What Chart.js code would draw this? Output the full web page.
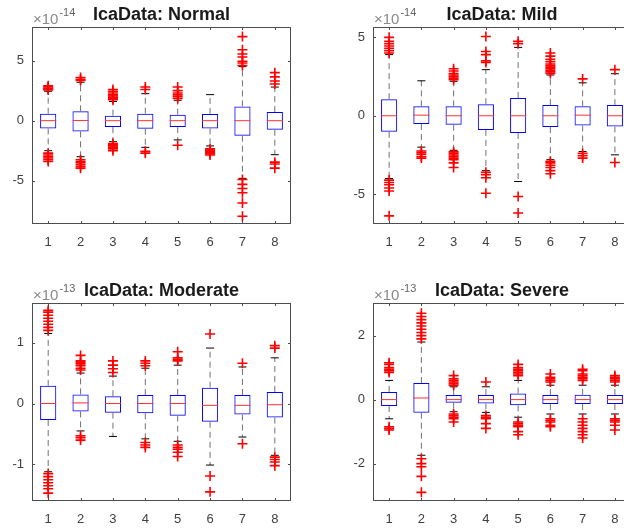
<!DOCTYPE html>
<html>
<head>
<meta charset="utf-8">
<script src="https://cdn.jsdelivr.net/npm/chart.js@4.4.0/dist/chart.umd.min.js"></script>
<style>
  html, body { margin: 0; padding: 0; background: #fff; overflow: hidden; }
  #fig { position: relative; width: 624px; height: 528px; overflow: hidden; }
  #fig canvas { position: absolute; }
</style>
</head>
<body>
<div id="fig">
  <canvas id="c-normal" width="300" height="264" style="left:0;top:0"></canvas>
  <canvas id="c-mild" width="330" height="264" style="left:312px;top:0"></canvas>
  <canvas id="c-moderate" width="300" height="264" style="left:0;top:264px"></canvas>
  <canvas id="c-severe" width="330" height="264" style="left:312px;top:264px"></canvas>
</div>
<script>
const positions = [1, 2, 3, 4, 5, 6, 7, 8];

// IcaData: Normal (x1e-14)
const normalMedian = [0, 0.02, 0, 0, 0, 0, 0, 0];
const normalQ1 = [-0.64, -0.89, -0.53, -0.67, -0.53, -0.64, -1.25, -0.75];
const normalQ3 = [0.58, 0.78, 0.42, 0.58, 0.50, 0.56, 1.19, 0.72];
const normalLow = [-2.5, -3.0, -1.75, -2.22, -1.6, -2.1, -4.8, -2.83];
const normalHigh = [2.45, 3.2, 1.6, 2.25, 1.7, 2.17, 4.5, 2.8];
const normalOutliers = [
  [2.55, 2.65, 2.7, 2.8, 2.9, -2.7, -2.85, -3.0, -3.1, -3.25, -3.4],
  [3.35, 3.45, 3.6, -3.25, -3.4, -3.5, -3.65, -3.8, -3.95],
  [1.75, 1.85, 1.95, 2.05, 2.15, 2.3, 2.45, 2.6, -1.9, -2.0, -2.1, -2.2, -2.35, -2.5],
  [2.6, 2.8, -2.55, -2.7],
  [1.85, 2.0, 2.15, 2.3, 2.5, 2.8, -2.05],
  [-2.35, -2.45, -2.55, -2.65, -2.75, -2.85],
  [4.6, 4.8, 4.95, 5.3, 5.55, 5.9, 7.0, -4.9, -5.3, -5.65, -6.0, -6.85, -7.95],
  [3.05, 3.3, 3.65, 4.0, -3.45, -3.6, -3.95]
];
const normalTicks = [-5, 0, 5];

// IcaData: Mild (x1e-14)
const mildMedian = [0, 0.04, 0, 0, 0, 0, 0.04, 0];
const mildQ1 = [-1.02, -0.53, -0.57, -0.9, -1.1, -0.72, -0.62, -0.68];
const mildQ3 = [1.06, 0.6, 0.6, 0.74, 1.13, 0.68, 0.6, 0.68];
const mildLow = [-4.0, -2.0, -2.2, -3.5, -4.19, -2.8, -2.28, -2.49];
const mildHigh = [3.9, 2.23, 2.2, 2.94, 4.36, 2.6, 2.1, 2.68];
const mildOutliers = [
  [4.0, 4.15, 4.3, 4.45, 4.6, 4.75, 5.0, -4.1, -4.25, -4.4, -4.6, -4.8, -6.38],
  [-2.25, -2.35, -2.45, -2.6, -2.7],
  [2.3, 2.4, 2.5, 2.6, 2.7, 2.85, 3.0, -2.3, -2.4, -2.5, -2.6, -2.7, -2.8, -3.0, -3.3],
  [3.4, 3.5, 3.9, 4.1, 5.05, -3.6, -3.75, -3.95, -4.94],
  [4.6, 4.75, -5.15, -6.2],
  [2.7, 2.8, 2.9, 3.0, 3.1, 3.2, 3.3, 3.45, 3.6, 3.8, 4.0, -2.9, -3.0, -3.15, -3.3, -3.5, -3.7],
  [2.35, -2.4, -2.55, -2.7],
  [2.94, -2.98]
];
const mildTicks = [-5, 0, 5];

// IcaData: Moderate (x1e-13)
const moderateMedian = [0, 0.01, 0, 0, 0, -0.03, -0.03, -0.02];
const moderateQ1 = [-0.27, -0.13, -0.15, -0.16, -0.2, -0.3, -0.18, -0.23];
const moderateQ3 = [0.29, 0.15, 0.12, 0.14, 0.14, 0.26, 0.14, 0.19];
const moderateLow = [-1.12, -0.45, -0.54, -0.58, -0.62, -1.01, -0.55, -0.85];
const moderateHigh = [1.15, 0.5, 0.45, 0.58, 0.63, 0.91, 0.6, 0.75];
const moderateOutliers = [
  [1.2, 1.25, 1.3, 1.35, 1.4, 1.45, 1.5, 1.53, -1.15, -1.2, -1.25, -1.3, -1.35, -1.4, -1.47],
  [0.55, 0.58, 0.62, 0.65, 0.68, 0.7, 0.79, -0.53, -0.56, -0.6],
  [0.51, 0.57, 0.63, 0.7],
  [0.62, 0.66, 0.7, -0.64, -0.68, -0.72],
  [0.7, 0.72, 0.75, 0.85, -0.68, -0.72, -0.75, -0.8, -0.87],
  [1.14, -1.19, -1.45],
  [0.66, -0.66],
  [0.91, 0.95, -0.88, -0.92, -0.96, -1.02]
];
const moderateTicks = [-1, 0, 1];

// IcaData: Severe (x1e-13)
const severeMedian = [0, 0.05, 0, 0, 0, 0, 0, 0];
const severeQ1 = [-0.2, -0.41, -0.1, -0.12, -0.18, -0.14, -0.14, -0.14];
const severeQ3 = [0.24, 0.52, 0.14, 0.14, 0.19, 0.14, 0.15, 0.14];
const severeLow = [-0.6, -1.74, -0.38, -0.4, -0.55, -0.45, -0.45, -0.45];
const severeHigh = [0.6, 1.8, 0.4, 0.4, 0.6, 0.45, 0.45, 0.45];
const severeOutliers = [
  [0.85, 0.9, 0.95, 1.0, 1.1, 1.15, -0.85, -0.9, -0.95],
  [1.9, 2.0, 2.1, 2.2, 2.3, 2.4, 2.5, 2.6, 2.7, -1.85, -2.0, -2.1, -2.4, -2.9],
  [0.45, 0.5, 0.55, 0.6, 0.65, 0.75, -0.45, -0.5, -0.55, -0.6, -0.7],
  [0.55, -0.5, -0.55, -0.6, -0.75, -0.9],
  [0.75, 0.8, 0.85, 0.9, 0.95, 1.0, 1.1, -0.7, -0.75, -0.8, -0.85, -1.0, -1.1],
  [0.55, 0.6, 0.65, 0.7, 0.8, -0.6, -0.65, -0.7, -0.8, -0.85],
  [0.6, 0.65, 0.7, 0.75, 0.8, 0.9, 0.95, -0.6, -0.7, -0.8, -0.9, -1.0, -1.1, -1.2],
  [0.55, 0.6, 0.65, 0.7, 0.75, -0.6, -0.65, -0.7, -0.8, -0.95]
];
const severeTicks = [-2, 0, 2];

const FONT = '"Liberation Sans", Arial, sans-serif';

// box outline, tick marks, title and exponent label in MATLAB style
const matlabAxes = {
  id: 'matlabAxes',
  afterDraw(chart, args, opts) {
    const { ctx, chartArea: a, scales } = chart;
    ctx.save();
    ctx.strokeStyle = '#4d4d4d';
    ctx.lineWidth = 1;
    ctx.strokeRect(a.left + 0.5, a.top + 0.5, a.right - a.left - 1, a.bottom - a.top - 1);
    ctx.beginPath();
    scales.x.ticks.forEach(t => {
      const px = Math.round(scales.x.getPixelForValue(t.value)) + 0.5;
      ctx.moveTo(px, a.bottom); ctx.lineTo(px, a.bottom - 3);
      ctx.moveTo(px, a.top); ctx.lineTo(px, a.top + 3);
    });
    scales.y.ticks.forEach(t => {
      const py = Math.round(scales.y.getPixelForValue(t.value)) + 0.5;
      ctx.moveTo(a.left, py); ctx.lineTo(a.left + 3, py);
      ctx.moveTo(a.right, py); ctx.lineTo(a.right - 3, py);
    });
    ctx.stroke();

    ctx.textBaseline = 'alphabetic';
    ctx.fillStyle = '#1a1a1a';
    ctx.font = 'bold 18px ' + FONT;
    ctx.textAlign = 'center';
    ctx.fillText(opts.title, (a.left + a.right) / 2, a.top - 7);

    ctx.textAlign = 'left';
    ctx.fillStyle = '#8a8a8a';
    ctx.font = '15px ' + FONT;
    ctx.fillText('×10', a.left + 1, a.top - 3);
    const w = ctx.measureText('×10').width;
    ctx.fillStyle = '#666666';
    ctx.font = '11px ' + FONT;
    ctx.fillText(opts.exponent, a.left + w + 2, a.top - 11);
    ctx.restore();
  }
};

function renderBoxChart(id, d) {
  const canvas = document.getElementById(id);

  const whiskers = [];
  const caps = [];
  positions.forEach((x, i) => {
    whiskers.push({ x, y: d.q3[i] }, { x, y: d.high[i] }, { x, y: null },
                  { x, y: d.q1[i] }, { x, y: d.low[i] }, { x, y: null });
    caps.push({ x, y: d.low[i] }, { x, y: d.high[i] });
  });
  const outliers = [];
  d.outliers.forEach((list, i) => list.forEach(v => outliers.push({ x: positions[i], y: v })));

  new Chart(canvas, {
    type: 'bar',
    data: {
      datasets: [
        {
          type: 'scatter',
          data: outliers,
          pointStyle: 'cross',
          pointRadius: 5,
          borderColor: '#ff0000',
          borderWidth: 1.6
        },
        {
          type: 'scatter',
          data: positions.map((x, i) => ({ x, y: d.median[i] })),
          pointStyle: 'line',
          pointRadius: 8,
          borderColor: '#ff3030',
          borderWidth: 1
        },
        {
          type: 'scatter',
          data: caps,
          pointStyle: 'line',
          pointRadius: 4,
          borderColor: '#000000',
          borderWidth: 1
        },
        {
          type: 'scatter',
          data: whiskers,
          showLine: true,
          spanGaps: false,
          pointRadius: 0,
          borderColor: '#707070',
          borderWidth: 1,
          borderDash: [6, 4]
        },
        {
          type: 'bar',
          data: positions.map((x, i) => ({ x, y: [d.q1[i], d.q3[i]] })),
          backgroundColor: 'transparent',
          borderColor: '#0000ff',
          borderWidth: 1,
          borderSkipped: false,
          barPercentage: 0.5,
          categoryPercentage: 1
        }
      ]
    },
    options: {
      responsive: false,
      animation: false,
      events: [],
      layout: { padding: d.padding },
      plugins: {
        legend: { display: false },
        tooltip: { enabled: false },
        matlabAxes: { title: d.title, exponent: d.exponent }
      },
      scales: {
        x: {
          type: 'linear',
          offset: false,
          min: 0.5,
          max: 8.5,
          grid: { display: false },
          border: { display: false },
          ticks: { color: '#404040', font: { family: FONT, size: 13 }, padding: 3 },
          afterBuildTicks: s => { s.ticks = positions.map(v => ({ value: v })); },
          afterFit: s => { s.height = d.xHeight; }
        },
        y: {
          min: d.min,
          max: d.max,
          grid: { display: false },
          border: { display: false },
          ticks: { color: '#404040', font: { family: FONT, size: 13 }, padding: 0 },
          afterBuildTicks: s => { s.ticks = d.ticks.map(v => ({ value: v })); },
          afterFit: s => { s.width = d.yWidth; }
        }
      }
    },
    plugins: [matlabAxes]
  });
}

renderBoxChart('c-normal', {
  title: 'IcaData: Normal', exponent: '-14',
  median: normalMedian, q1: normalQ1, q3: normalQ3, low: normalLow, high: normalHigh,
  outliers: normalOutliers, ticks: normalTicks, min: -8.6, max: 7.8,
  padding: { top: 27, right: 7, left: 0, bottom: 0 }, yWidth: 32, xHeight: 40
});
renderBoxChart('c-mild', {
  title: 'IcaData: Mild', exponent: '-14',
  median: mildMedian, q1: mildQ1, q3: mildQ3, low: mildLow, high: mildHigh,
  outliers: mildOutliers, ticks: mildTicks, min: -6.9, max: 5.66,
  padding: { top: 27, right: 11, left: 0, bottom: 0 }, yWidth: 61, xHeight: 40
});
renderBoxChart('c-moderate', {
  title: 'IcaData: Moderate', exponent: '-13',
  median: moderateMedian, q1: moderateQ1, q3: moderateQ3, low: moderateLow, high: moderateHigh,
  outliers: moderateOutliers, ticks: moderateTicks, min: -1.6, max: 1.65,
  padding: { top: 39, right: 7, left: 0, bottom: 0 }, yWidth: 32, xHeight: 27
});
renderBoxChart('c-severe', {
  title: 'IcaData: Severe', exponent: '-13',
  median: severeMedian, q1: severeQ1, q3: severeQ3, low: severeLow, high: severeHigh,
  outliers: severeOutliers, ticks: severeTicks, min: -3.17, max: 3.02,
  padding: { top: 39, right: 11, left: 0, bottom: 0 }, yWidth: 61, xHeight: 27
});
</script>
</body>
</html>
